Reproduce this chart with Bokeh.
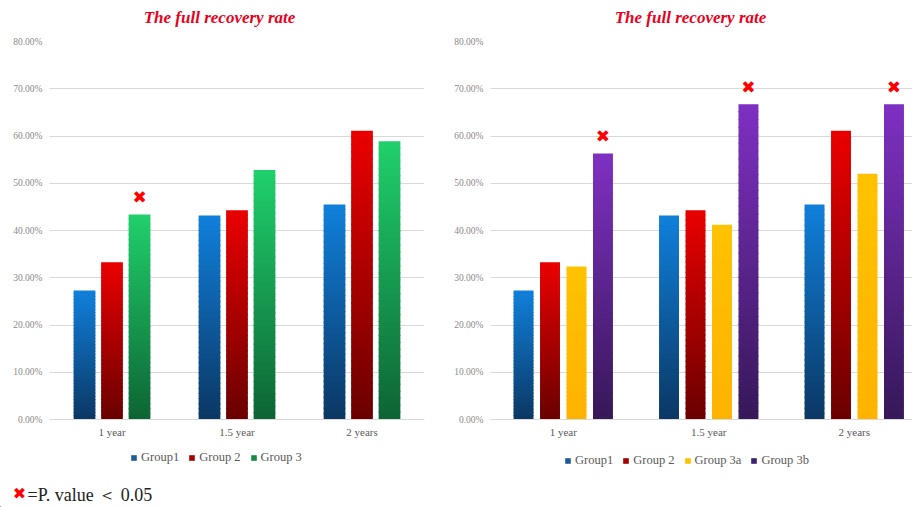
from bokeh.plotting import figure
from bokeh.models import (Range1d, FixedTicker, PrintfTickFormatter, Legend, LegendItem,
                          ColumnDataSource, Label)
from bokeh.layouts import row, column
from bokeh.embed import file_html
from bokeh.resources import INLINE
from bokeh.core.properties import value

# ---------------- data ----------------
periods = ["1 year", "1.5 year", "2 years"]
y_ticks = [0, 10, 20, 30, 40, 50, 60, 70, 80]

left_groups = ["Group1", "Group 2", "Group 3"]
right_groups = ["Group1", "Group 2", "Group 3a", "Group 3b"]

group1 = [27.3, 43.2, 45.5]
group2 = [33.3, 44.3, 61.1]
group3 = [43.4, 52.8, 58.9]
group3a = [32.4, 41.2, 52.0]
group3b = [56.3, 66.7, 66.7]

# significance flags (P value < 0.05)
left_sig = [[False, False, False], [False, False, False], [True, False, False]]
right_sig = [[False, False, False], [False, False, False], [False, False, False], [True, True, True]]

title_text = "The full recovery rate"
footnote_mark = "\u2716"
footnote_text = "=P. value \uff1c 0.05"

# ---------------- style ----------------
# (bottom colour, top colour, legend colour)
STYLE = {
    "Group1": ("#0b3763", "#1080dc", "#1f5b9b"),
    "Group 2": ("#6a0000", "#ea0000", "#a30000"),
    "Group 3": ("#0d6434", "#20d06c", "#178a45"),
    "Group 3a": ("#ffb300", "#ffc200", "#ffc000"),
    "Group 3b": ("#361858", "#7e30c2", "#3b2070"),
}
SERIF = "Liberation Serif"
N_SLICES = 40
EPS = 0.25


def hex2rgb(h):
    h = h.lstrip("#")
    return tuple(int(h[i:i + 2], 16) for i in (0, 2, 4))


def lerp(c0, c1, t):
    a, b = hex2rgb(c0), hex2rgb(c1)
    return "#%02x%02x%02x" % tuple(int(round(a[i] + (b[i] - a[i]) * t)) for i in range(3))


def bare(p):
    p.outline_line_color = None
    p.xgrid.grid_line_color = None
    p.ygrid.grid_line_color = None
    p.background_fill_color = "white"
    p.border_fill_color = "white"


def make_chart(groups, series, sig, width, height, x_end, pitch, bar_w,
               border_l, border_r, border_t, border_b, x_standoff):
    p = figure(width=width, height=height,
               x_range=Range1d(0, x_end), y_range=Range1d(0, 80),
               output_backend="svg", toolbar_location=None,
               min_border_left=border_l, min_border_right=border_r,
               min_border_top=border_t, min_border_bottom=border_b)
    p.outline_line_color = None
    p.background_fill_color = "white"
    p.border_fill_color = "white"

    n = len(groups)
    for gi, (g, vals) in enumerate(zip(groups, series)):
        bot_c, top_c, _ = STYLE[g]
        off = (gi - (n - 1) / 2) * pitch
        xs, bots, tops, cols = [], [], [], []
        for ci, v in enumerate(vals):
            xc = ci + 0.5 + off
            for k in range(N_SLICES):
                xs.append(xc)
                bots.append(v * k / N_SLICES)
                tops.append(min(v, v * (k + 1) / N_SLICES + EPS))
                cols.append(lerp(bot_c, top_c, (k + 0.5) / N_SLICES))
        src = ColumnDataSource(dict(x=xs, bottom=bots, top=tops, color=cols))
        p.vbar(x="x", bottom="bottom", top="top", width=bar_w, source=src,
               fill_color="color", line_color=None)

        mx = [ci + 0.5 + off for ci, s in enumerate(sig[gi]) if s]
        my = [vals[ci] for ci, s in enumerate(sig[gi]) if s]
        if mx:
            p.text(x=mx, y=my, text=[footnote_mark] * len(mx), y_offset=-17,
                   text_align="center", text_baseline="middle", text_color="#ff0000",
                   text_font=value("DejaVu Sans"), text_font_size="17px")

    # axes
    p.yaxis.ticker = FixedTicker(ticks=y_ticks)
    p.yaxis.formatter = PrintfTickFormatter(format="%.2f%%")
    p.yaxis.axis_line_color = None
    p.yaxis.major_tick_line_color = None
    p.yaxis.minor_tick_line_color = None
    p.yaxis.major_tick_out = 0
    p.yaxis.major_tick_in = 0
    p.yaxis.minor_tick_out = 0
    p.yaxis.major_label_text_font = SERIF
    p.yaxis.major_label_text_font_size = "9.5px"
    p.yaxis.major_label_text_color = "#8a8a8a"
    p.yaxis.major_label_standoff = 7

    centers = [i + 0.5 for i in range(len(periods))]
    p.xaxis.ticker = FixedTicker(ticks=centers)
    p.xaxis.major_label_overrides = {c: lab for c, lab in zip(centers, periods)}
    p.xaxis.axis_line_color = "#d9d9d9"
    p.xaxis.major_tick_line_color = None
    p.xaxis.minor_tick_line_color = None
    p.xaxis.major_tick_out = 0
    p.xaxis.major_tick_in = 0
    p.xaxis.minor_tick_out = 0
    p.xaxis.major_label_text_font = SERIF
    p.xaxis.major_label_text_font_size = "11px"
    p.xaxis.major_label_text_color = "#595959"
    p.xaxis.major_label_standoff = x_standoff

    p.xgrid.grid_line_color = None
    p.ygrid.ticker = FixedTicker(ticks=y_ticks)
    p.ygrid.grid_line_color = "#d9d9d9"
    return p


# ---- header with the two titles ----
head = figure(width=912, height=36, x_range=Range1d(0, 912), y_range=Range1d(0, 36),
              output_backend="svg", toolbar_location=None, min_border=0,
              x_axis_type=None, y_axis_type=None)
bare(head)
for cx in (219, 690):
    head.add_layout(Label(x=cx, y=19, text=title_text, text_align="center",
                          text_baseline="middle", text_font=SERIF,
                          text_font_style="bold italic", text_font_size="17px",
                          text_color="#e8001c"))

# ---- the two charts ----
left = make_chart(left_groups, [group1, group2, group3], left_sig,
                  width=446, height=406, x_end=3.0, pitch=0.22, bar_w=0.174,
                  border_l=49, border_r=22, border_t=5, border_b=23, x_standoff=6)
right = make_chart(right_groups, [group1, group2, group3a, group3b], right_sig,
                   width=466, height=406, x_end=422 / 145.5, pitch=0.182, bar_w=0.137,
                   border_l=44, border_r=0, border_t=5, border_b=23, x_standoff=6)

# ---- footer: legends and footnote ----
foot = figure(width=912, height=65, x_range=Range1d(0, 912), y_range=Range1d(0, 65),
              output_backend="svg", toolbar_location=None, min_border=0,
              x_axis_type=None, y_axis_type=None)
bare(foot)


def legend_for(groups, loc):
    items = []
    for g in groups:
        sw = foot.vbar(x=[-100], bottom=[0], top=[1], width=1,
                       fill_color=STYLE[g][2], line_color=None)
        items.append(LegendItem(label=g, renderers=[sw]))
    lg = Legend(items=items, orientation="horizontal", location=loc,
                glyph_width=7, glyph_height=7, label_standoff=4, spacing=9,
                label_height=12, label_text_font=SERIF, label_text_font_size="12.5px",
                label_text_color="#595959", border_line_color=None,
                background_fill_alpha=0, padding=0, margin=0)
    foot.add_layout(lg)


legend_for(left_groups, (130, 42))
legend_for(right_groups, (564, 39))

foot.add_layout(Label(x=19, y=14, text=footnote_mark, text_align="center",
                      text_baseline="middle", text_color="#ff0000",
                      text_font="DejaVu Sans", text_font_size="16px"))
foot.add_layout(Label(x=27, y=13, text=footnote_text, text_align="left",
                      text_baseline="middle", text_color="#222222",
                      text_font=SERIF, text_font_size="18px"))

layout = column(head, row(left, right), foot)
open("out.html", "w").write(file_html(layout, INLINE))
